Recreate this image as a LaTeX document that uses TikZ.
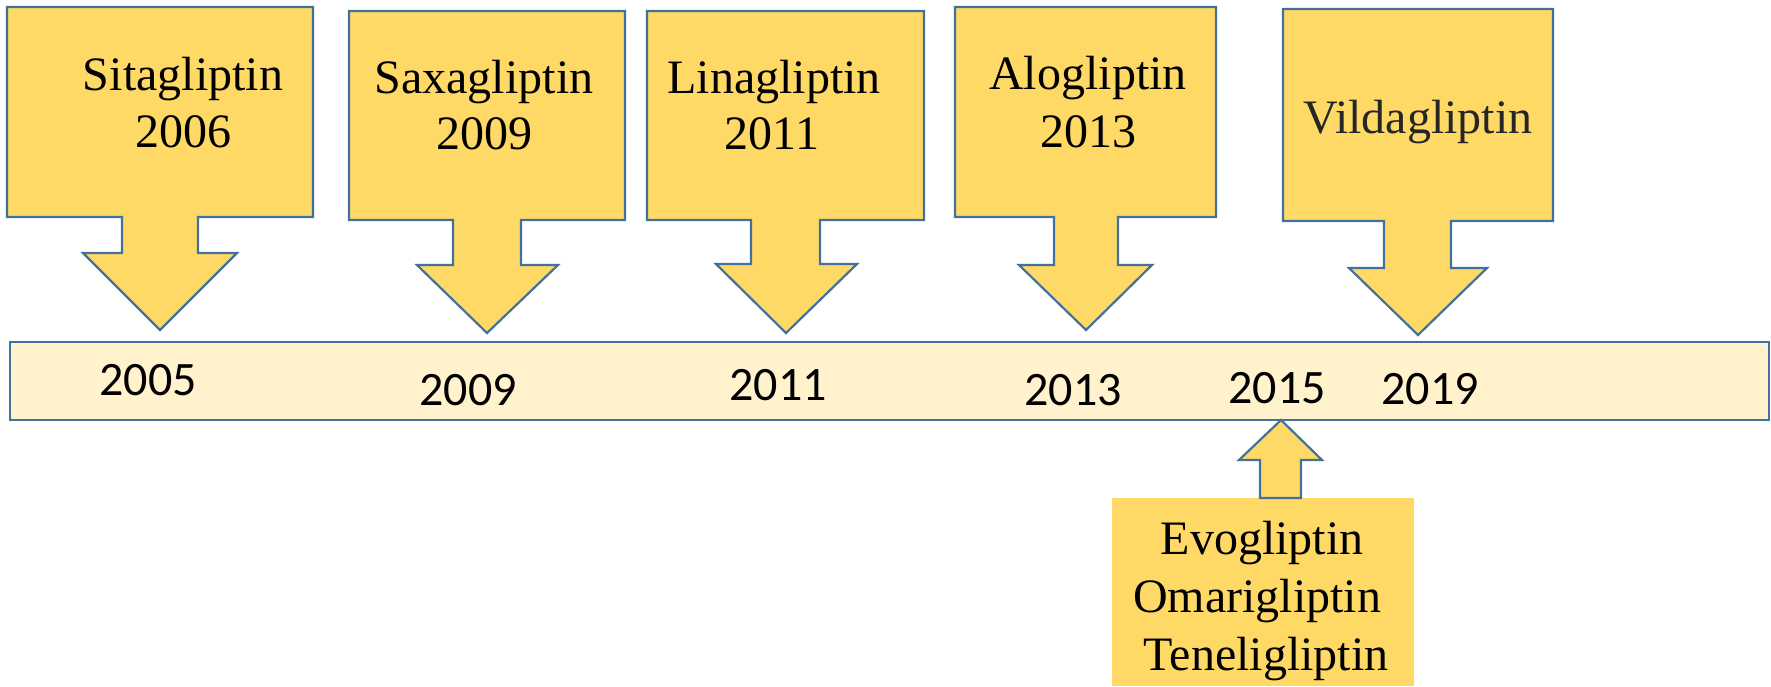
\documentclass[tikz,border=0pt]{standalone}
\usepackage{fontspec}
\setmainfont{Liberation Serif}
\newfontfamily\yearfont{Carlito}
\definecolor{calloutfill}{HTML}{FFD966}
\definecolor{barfill}{HTML}{FFF2CC}
\definecolor{edgeblue}{HTML}{41719C}
\definecolor{darktext}{HTML}{262626}
\begin{document}
\begin{tikzpicture}[x=0.5pt,y=-0.5pt,
  callout/.style={fill=calloutfill,draw=edgeblue,line width=1.1pt,line join=miter},
  drugname/.style={anchor=base,inner sep=0pt,font=\fontsize{24}{28}\selectfont},
  yearlabel/.style={anchor=base,inner sep=0pt,font=\yearfont\fontsize{24}{28}\selectfont},
  timebar/.style={fill=barfill,draw=edgeblue,line width=1.3pt}]
\useasboundingbox (0,0) rectangle (1771,686);

% timeline bar
\draw[timebar] (10,342) rectangle (1769,420);
\coordinate (barbottom2015) at (1281,420);

% downward callouts
\draw[callout] (7,7) -- (313,7) -- (313,217) -- (198,217) -- (198,253) -- (237,253)
  -- (160,330) -- (83,253) -- (122,253) -- (122,217) -- (7,217) -- cycle;
\draw[callout] (349,11) -- (625,11) -- (625,220) -- (521,220) -- (521,265) -- (558,265)
  -- (487,333) -- (417,265) -- (453,265) -- (453,220) -- (349,220) -- cycle;
\draw[callout] (647,11) -- (924,11) -- (924,220) -- (820,220) -- (820,264) -- (857,264)
  -- (786,333) -- (716,264) -- (751,264) -- (751,220) -- (647,220) -- cycle;
\draw[callout] (955,7) -- (1216,7) -- (1216,217) -- (1118,217) -- (1118,265) -- (1152,265)
  -- (1086,330) -- (1019,265) -- (1054,265) -- (1054,217) -- (955,217) -- cycle;
\draw[callout] (1283,9) -- (1553,9) -- (1553,221) -- (1451,221) -- (1451,268) -- (1487,268)
  -- (1418,335) -- (1349,268) -- (1384,268) -- (1384,221) -- (1283,221) -- cycle;

% lower box with upward arrow
\fill[calloutfill] (1112,498) rectangle (1414,686);
\draw[callout] (1260,498) -- (1260,460) -- (1239,460) -- (barbottom2015)
  -- (1322,460) -- (1301,460) -- (1301,498) -- cycle;

% drug names and approval years
\node[drugname] (sita) at (183,90) {Sitagliptin};
\node[drugname] (sitay) at (183,147) {2006};
\node[drugname] (saxa) at (484,93) {Saxagliptin};
\node[drugname] (saxay) at (484,149) {2009};
\node[drugname] (lina) at (774,93) {Linagliptin};
\node[drugname] (linay) at (772,149) {2011};
\node[drugname] (alo) at (1088,89) {Alogliptin};
\node[drugname] (aloy) at (1088,147) {2013};
\node[drugname,text=darktext] (vilda) at (1418,133) {Vildagliptin};
\node[drugname] (evo) at (1262,554) {Evogliptin};
\node[drugname] (omari) at (1257,612) {Omarigliptin};
\node[drugname] (teneli) at (1266,670) {Teneligliptin};

% years on the timeline
\node[yearlabel] (y2005) at (148,395) {2005};
\node[yearlabel] (y2009) at (468,405) {2009};
\node[yearlabel] (y2011) at (778,400) {2011};
\node[yearlabel] (y2013) at (1073,405) {2013};
\node[yearlabel] (y2015) at (1277,403) {2015};
\node[yearlabel] (y2019) at (1430,404) {2019};
\end{tikzpicture}
\end{document}
